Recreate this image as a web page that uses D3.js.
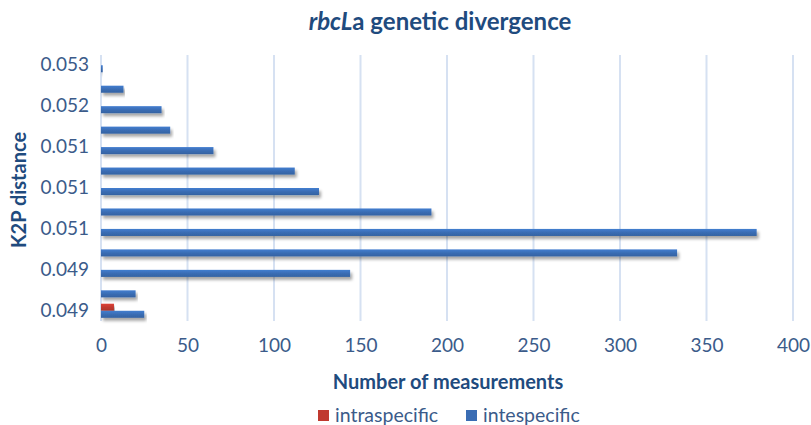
<!DOCTYPE html>
<html>
<head>
<meta charset="utf-8">
<script src="https://cdn.jsdelivr.net/npm/d3@7"></script>
<style>
  body { margin: 0; background: #fff; }
  svg { font-family: Lato, "Open Sans", sans-serif; }
</style>
</head>
<body>
<svg id="chart" width="811" height="425"></svg>
<script>
'use strict';

// K2P distance classes (bottom to top), estimated from the rounded labels
var categories = [0.0486, 0.0489, 0.0492, 0.0498, 0.0505, 0.0507, 0.0510,
                  0.0512, 0.0514, 0.0517, 0.0520, 0.0524, 0.0527];
var intraspecific = [7.5, 0, 0, 0, 0, 0, 0, 0, 0, 0, 0, 0, 0];
var intespecific  = [25, 20, 144, 333, 379, 191, 126, 112, 65, 40, 35, 13, 1];
var seriesNames = ["intraspecific", "intespecific"];
var seriesColors = ["#c0392f", "#3a6db4"];
var xTicks = [0, 50, 100, 150, 200, 250, 300, 350, 400];

var svg = d3.select("#chart");
var margin = { left: 101, right: 18, top: 55, bottom: 104 };
var W = 811, H = 425;
var plotW = W - margin.left - margin.right;
var plotH = H - margin.top - margin.bottom;

var defs = svg.append("defs");
defs.append("filter").attr("id", "shadow")
  .attr("x", "-5%").attr("y", "-50%").attr("width", "110%").attr("height", "250%")
  .append("feDropShadow")
  .attr("dx", 2).attr("dy", 3).attr("stdDeviation", 1.8)
  .attr("flood-color", "#000").attr("flood-opacity", 0.35);

seriesColors.forEach(function(c, i) {
  var g = defs.append("linearGradient").attr("id", "grad" + i)
    .attr("x1", 0).attr("y1", 0).attr("x2", 0).attr("y2", 1);
  g.append("stop").attr("offset", "0%").attr("stop-color", d3.color(c).brighter(0.4));
  g.append("stop").attr("offset", "50%").attr("stop-color", c);
  g.append("stop").attr("offset", "100%").attr("stop-color", d3.color(c).darker(0.3));
});

var x = d3.scaleLinear().domain([0, 400]).range([0, plotW]);
var y = d3.scaleBand()
  .domain(d3.range(categories.length))
  .range([plotH, 0])
  .paddingInner(0.31)
  .paddingOuter(0.155);
var ySub = d3.scaleBand().domain([0, 1]).range([0, y.bandwidth()]);

var g = svg.append("g").attr("transform", "translate(" + margin.left + "," + margin.top + ")");

// vertical gridlines
g.selectAll("line.grid")
  .data(xTicks)
  .enter().append("line")
  .attr("class", "grid")
  .attr("x1", function(d) { return x(d); })
  .attr("x2", function(d) { return x(d); })
  .attr("y1", 0)
  .attr("y2", plotH)
  .attr("stroke", "#d6e1f2")
  .attr("stroke-width", 2);

var rows = [];
categories.forEach(function(c, i) {
  rows.push({ cat: i, s: 0, v: intraspecific[i] });
  rows.push({ cat: i, s: 1, v: intespecific[i] });
});

g.selectAll("rect.bar")
  .data(rows.filter(function(d) { return d.v > 0; }))
  .enter().append("rect")
  .attr("class", "bar")
  .attr("x", x(0))
  .attr("y", function(d) { return y(d.cat) + ySub(d.s); })
  .attr("width", function(d) { return Math.max(1.5, x(d.v) - x(0)); })
  .attr("height", ySub.bandwidth())
  .attr("fill", function(d) { return "url(#grad" + d.s + ")"; })
  .attr("filter", "url(#shadow)");

// x axis
var xAxis = g.append("g")
  .attr("transform", "translate(0," + plotH + ")")
  .call(d3.axisBottom(x).tickValues(xTicks).tickSize(0).tickPadding(18));
xAxis.select(".domain").remove();
xAxis.selectAll("text")
  .attr("font-size", 19)
  .attr("font-family", "Lato, sans-serif")
  .attr("fill", "#3b5b8a");

// y axis: label every other class
var fmt = d3.format(".3f");
var yAxis = g.append("g")
  .call(d3.axisLeft(y).tickSize(0).tickPadding(12)
    .tickFormat(function(d) { return d % 2 === 0 ? fmt(categories[d]) : ""; }));
yAxis.select(".domain").remove();
yAxis.selectAll("text")
  .attr("font-size", 19)
  .attr("font-family", "Lato, sans-serif")
  .attr("fill", "#3b5b8a");

// title
var title = svg.append("text")
  .attr("x", 440).attr("y", 30)
  .attr("text-anchor", "middle")
  .attr("font-size", 24)
  .attr("font-weight", "bold")
  .attr("fill", "#1f4b7e");
title.append("tspan").attr("font-style", "italic").text("rbcL");
title.append("tspan").text("a genetic divergence");

// axis titles
svg.append("text")
  .attr("x", 448).attr("y", 389)
  .attr("text-anchor", "middle")
  .attr("font-size", 20)
  .attr("font-weight", "bold")
  .attr("fill", "#1f4b7e")
  .text("Number of measurements");

svg.append("text")
  .attr("transform", "translate(26,190) rotate(-90)")
  .attr("text-anchor", "middle")
  .attr("font-size", 20)
  .attr("font-weight", "bold")
  .attr("fill", "#1f4b7e")
  .text("K2P distance");

// legend
var legend = svg.append("g");
var legendX = [318, 466];
seriesNames.forEach(function(name, i) {
  legend.append("rect")
    .attr("x", legendX[i]).attr("y", 410)
    .attr("width", 11).attr("height", 11)
    .attr("fill", seriesColors[i]);
  legend.append("text")
    .attr("x", legendX[i] + 17).attr("y", 422)
    .attr("font-size", 19.5)
    .attr("fill", "#3b5b8a")
    .text(name);
});
</script>
</body>
</html>
